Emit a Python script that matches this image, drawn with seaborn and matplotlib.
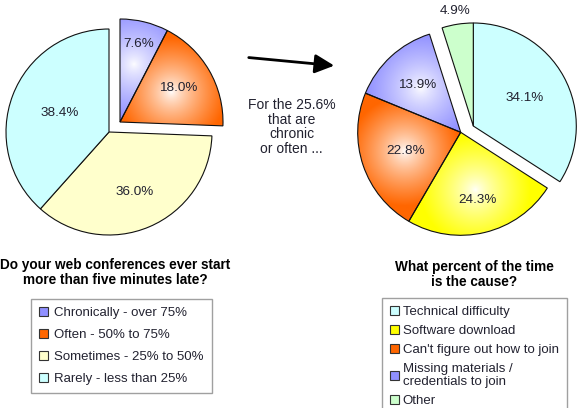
import numpy as np
import matplotlib
matplotlib.use("Agg")
import matplotlib.pyplot as plt
import seaborn as sns
from matplotlib.patches import Patch, FancyArrowPatch
from matplotlib.colors import to_rgb

# ---------------- data ----------------
left_labels = ["Chronically - over 75%", "Often - 50% to 75%",
               "Sometimes - 25% to 50%", "Rarely - less than 25%"]
left_values = [7.6, 18.0, 36.0, 38.4]
left_title = "Do your web conferences ever start\nmore than five minutes late?"

right_labels = ["Technical difficulty", "Software download",
                "Can't figure out how to join",
                "Missing materials /\ncredentials to join", "Other"]
right_values = [34.1, 24.3, 22.8, 13.9, 4.9]
right_title = "What percent of the time\nis the cause?"

note_text = "For the 25.6%\nthat are\nchronic\nor often ..."

# ---------------- style ----------------
left_colors = ["#9090ff", "#ff6600", "#ffffcc", "#ccffff"]
left_gradient = [True, True, False, False]
left_explode = [True, True, False, False]
left_label_r = [0.78, 0.65, 0.63, 0.51]

right_colors = ["#ccffff", "#ffff00", "#ff6600", "#9090ff", "#ccffcc"]
right_gradient = [False, True, True, True, False]
right_explode = [True, False, False, False, True]
right_label_r = [0.57, 0.68, 0.56, 0.63, 1.13]

sns.set_theme(style="white")
plt.rcParams['font.family'] = ['Liberation Sans', 'DejaVu Sans']

W, H = 579, 408
fig = plt.figure(figsize=(W / 100, H / 100), dpi=100)
ax = fig.add_axes([0, 0, 1, 1])
TXT = "#222230"
R = 103


def grad_wedge(wedge, base, f=0.58, spread=55):
    cx, cy = wedge.center
    r = wedge.r
    mid = np.deg2rad((wedge.theta1 + wedge.theta2) / 2)
    hx, hy = cx + f * r * np.cos(mid), cy + f * r * np.sin(mid)
    xs = np.linspace(cx - r - 3, cx + r + 3, 320)
    ys = np.linspace(cy - r - 3, cy + r + 3, 320)
    X, Y = np.meshgrid(xs, ys)
    d = np.hypot(X - hx, Y - hy)
    t = np.clip(d / spread, 0, 1) ** 0.75
    b = np.array(to_rgb(base))
    img = (1 - t)[..., None] * 1.0 + t[..., None] * b
    im = ax.imshow(img, extent=(xs[0], xs[-1], ys[0], ys[-1]), origin="lower",
                   zorder=1, interpolation="bilinear")
    im.set_clip_path(wedge)
    wedge.set_facecolor("none")
    wedge.set_zorder(2)


def draw_pie(values, colors, center, shift, explode, grads, label_r):
    wedges, _, autotexts = ax.pie(
        values, colors=colors, startangle=90, counterclock=False, radius=R,
        center=center, autopct="%.1f%%", pctdistance=0.6,
        wedgeprops=dict(edgecolor="#111111", linewidth=0.8),
        textprops=dict(color=TXT, fontsize=9.7))
    for w, ex, g, c, t, lr in zip(wedges, explode, grads, colors, autotexts, label_r):
        if ex:
            w.set_center((center[0] + shift[0], center[1] + shift[1]))
        if g:
            grad_wedge(w, c)
        cx, cy = w.center
        mid = np.deg2rad((w.theta1 + w.theta2) / 2)
        t.set_position((cx + lr * R * np.cos(mid), cy + lr * R * np.sin(mid)))
        t.set_zorder(4)


draw_pie(left_values, left_colors, (109, H - 132), (11, 10),
         left_explode, left_gradient, left_label_r)
draw_pie(right_values, right_colors, (460.7, H - 132.3), (12.6, 6.3),
         right_explode, right_gradient, right_label_r)

# arrow + note
ax.add_patch(FancyArrowPatch((246, H - 57.3), (337, H - 65.9),
                             arrowstyle="-|>,head_length=0.65,head_width=0.32",
                             mutation_scale=18, color="black", lw=2.0, zorder=5))
ax.text(291.5, H - 127, note_text, ha="center", va="center", fontsize=10,
        color=TXT, linespacing=1.04)

# titles
ax.text(115, H - 272.5, left_title, ha="center", va="center", fontsize=9.8,
        fontweight="bold", color="black", linespacing=1.1)
ax.text(474, H - 274.5, right_title, ha="center", va="center", fontsize=9.8,
        fontweight="bold", color="black", linespacing=1.1)

# legends
lh = [Patch(facecolor=c, edgecolor="#333333", linewidth=0.8, label=l)
      for c, l in zip(left_colors, left_labels)]
leg1 = ax.legend(handles=lh, loc="upper left",
                 bbox_to_anchor=(31 / W, 1 - 299 / H), fontsize=9.5,
                 frameon=True, fancybox=False, edgecolor="#888888",
                 handlelength=0.7, handleheight=0.7, handletextpad=0.45,
                 labelspacing=0.74, borderpad=0.6, borderaxespad=0)
leg1.get_frame().set_linewidth(1.0)
for tx in leg1.get_texts():
    tx.set_color(TXT)
ax.add_artist(leg1)

rh = [Patch(facecolor=c, edgecolor="#333333", linewidth=0.8, label=l)
      for c, l in zip(right_colors, right_labels)]
leg2 = ax.legend(handles=rh, loc="upper left",
                 bbox_to_anchor=(381.7 / W, 1 - 298.3 / H), fontsize=9.5,
                 frameon=True, fancybox=False, edgecolor="#888888",
                 handlelength=0.7, handleheight=0.7, handletextpad=0.3,
                 labelspacing=0.5, borderpad=0.6, borderaxespad=0)
leg2.get_frame().set_linewidth(1.0)
for tx in leg2.get_texts():
    tx.set_color(TXT)
    tx.set_linespacing(1.15)

ax.set_xlim(0, W)
ax.set_ylim(0, H)
ax.set_aspect("equal")
ax.axis("off")
fig.savefig("out.png", dpi=100)
